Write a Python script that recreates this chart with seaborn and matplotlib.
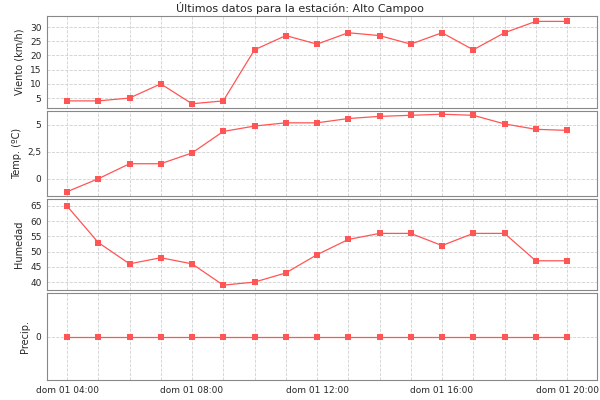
import matplotlib
matplotlib.use("Agg")
import matplotlib.pyplot as plt
import matplotlib.dates as mdates
import matplotlib.ticker as mticker
import seaborn as sns
import pandas as pd
import numpy as np

hours = list(range(4, 21))
viento = [4, 4, 5, 10, 3, 4, 22, 27, 24, 28, 27, 24, 28, 22, 28, 32, 32]
temp = [-1.2, 0, 1.4, 1.4, 2.4, 4.4, 4.9, 5.2, 5.2, 5.6, 5.8, 5.9, 6.0, 5.9, 5.1, 4.6, 4.5]
humedad = [65, 53, 46, 48, 46, 39, 40, 43, 49, 54, 56, 56, 52, 56, 56, 47, 47]
precip = [0] * 17
labels = ["Viento (km/h)", "Temp. (ºC)", "Humedad", "Precip."]

times = pd.to_datetime([f"2023-01-01 {h:02d}:00" for h in hours])
sns.set_style("white")
plt.rcParams["font.family"] = ["DejaVu Sans"]
plt.rcParams["font.size"] = 7

fig = plt.figure(figsize=(6, 4), dpi=100)
W, H = 600, 400
panels = [(16, 108), (111, 196), (199, 290), (293, 380)]
ylims = [(1.5, 33.9), (-1.6, 6.3), (37.4, 67.3), (-1, 1)]
yticks = [[5, 10, 15, 20, 25, 30], [0, 2.5, 5], [40, 45, 50, 55, 60, 65], [0]]
series = [viento, temp, humedad, precip]
x0 = times[0] - pd.Timedelta(hours=0.64)
x1 = times[-1] + pd.Timedelta(hours=0.96)
color = "#FF5555"
axes = []
for i, ((t, b), vals) in enumerate(zip(panels, series)):
    ax = fig.add_axes([47 / W, 1 - b / H, 550 / W, (b - t) / H])
    df = pd.DataFrame({"t": times, "v": vals})
    sns.lineplot(data=df, x="t", y="v", ax=ax, color=color, marker="s",
                 markersize=5, markeredgewidth=0, linewidth=0.9)
    ax.set_xlim(x0, x1)
    ax.set_ylim(*ylims[i])
    ax.set_yticks(yticks[i])
    if i == 1:
        ax.yaxis.set_major_formatter(mticker.FuncFormatter(lambda v, p: f"{v:g}".replace(".", ",")))
    ax.set_ylabel(labels[i], fontsize=7)
    ax.set_xlabel("")
    ax.xaxis.set_major_locator(mdates.HourLocator(byhour=[4, 8, 12, 16, 20]))
    ax.xaxis.set_major_formatter(mdates.DateFormatter("dom 01 %H:%M"))
    ax.grid(True, color="#d0d0d0", linestyle="--", linewidth=0.6)
    ax.xaxis.set_minor_locator(mdates.HourLocator())
    ax.grid(True, which="minor", axis="x", color="#d0d0d0", linestyle="--", linewidth=0.6)
    for s in ax.spines.values():
        s.set_color("#888888")
        s.set_linewidth(0.8)
    ax.tick_params(axis="both", length=2, labelsize=6.5, pad=2)
    if i < 3:
        ax.tick_params(axis="x", labelbottom=False, length=0)
fig.text(0.5, 1 - 8 / H, "Últimos datos para la estación: Alto Campoo", ha="center", va="center", fontsize=8)
fig.savefig("out.png", dpi=100)
